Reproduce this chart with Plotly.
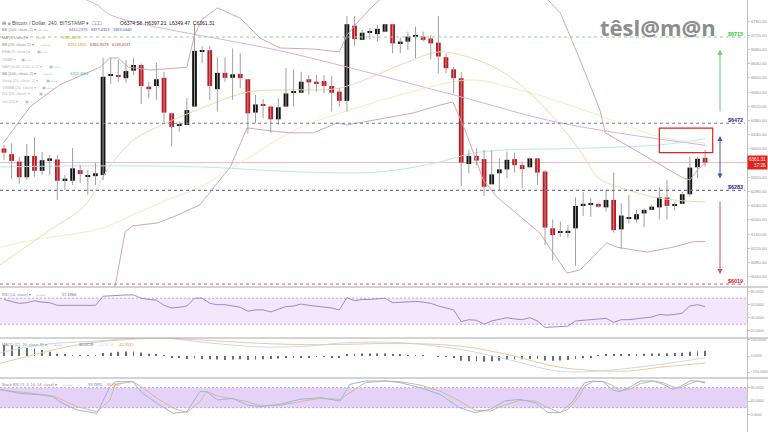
import plotly.graph_objects as go

W, H = 768, 432
PLOT_W = 747
FONT = "Liberation Sans, Arial, sans-serif"

# ---------------- candle data (BTC/USD, 240 min, Bitstamp) ----------------
opens = [6401, 6385, 6364, 6320, 6380, 6338, 6366, 6370, 6312, 6310,
         6340, 6321, 6323, 6326, 6606, 6608, 6599, 6620, 6636, 6575,
         6577, 6600, 6500, 6465, 6467, 6519, 6674, 6678, 6568, 6614,
         6600, 6611, 6596, 6502, 6525, 6519, 6483, 6519, 6560, 6558,
         6596, 6589, 6591, 6577, 6561, 6535, 6747, 6707, 6729, 6723,
         6730, 6751, 6697, 6702, 6717, 6716, 6711, 6699, 6658, 6624,
         6599, 6357, 6380, 6371, 6300, 6331, 6342, 6371, 6354, 6348,
         6373, 6336, 6176, 6164, 6164, 6176, 6239, 6243, 6245, 6235,
         6256, 6173, 6203, 6201, 6218, 6228, 6235, 6263, 6241, 6245,
         6272, 6348, 6374.58]
highs = [6412, 6416, 6377, 6414, 6433, 6391, 6383, 6383, 6326, 6402,
         6354, 6340, 6360, 6656, 6656, 6650, 6650, 6656, 6640, 6589,
         6642, 6617, 6501, 6476, 6543, 6752, 6690, 6690, 6658, 6658,
         6683, 6669, 6596, 6552, 6540, 6521, 6542, 6627, 6624, 6617,
         6608, 6608, 6608, 6605, 6571, 6774, 6774, 6735, 6740, 6749,
         6752, 6752, 6714, 6730, 6744, 6730, 6721, 6774, 6669, 6631,
         6617, 6397, 6401, 6397, 6395, 6373, 6392, 6389, 6364, 6376,
         6373, 6340, 6201, 6195, 6185, 6263, 6278, 6261, 6247, 6284,
         6333, 6247, 6270, 6228, 6232, 6242, 6292, 6312, 6251, 6279,
         6378, 6378, 6397.21]
lows = [6368, 6315, 6301, 6312, 6321, 6326, 6326, 6256, 6284, 6298,
        6304, 6270, 6298, 6312, 6583, 6589, 6586, 6608, 6526, 6542,
        6538, 6474, 6408, 6448, 6467, 6519, 6641, 6538, 6505, 6589,
        6538, 6571, 6444, 6472, 6486, 6444, 6467, 6519, 6519, 6558,
        6552, 6561, 6556, 6505, 6519, 6505, 6690, 6707, 6707, 6702,
        6730, 6669, 6669, 6678, 6655, 6702, 6652, 6613, 6613, 6556,
        6295, 6331, 6354, 6267, 6300, 6282, 6317, 6333, 6289, 6348,
        6298, 6129, 6085, 6152, 6148, 6070, 6211, 6208, 6235, 6223,
        6164, 6117, 6190, 6192, 6179, 6228, 6201, 6201, 6226, 6245,
        6265, 6317, 6349.47]
closes = [6389, 6366, 6320, 6380, 6338, 6368, 6373, 6310, 6316, 6345,
          6329, 6322, 6331, 6603, 6608, 6603, 6619, 6636, 6577, 6568,
          6596, 6502, 6462, 6466, 6509, 6676, 6678, 6577, 6614, 6600,
          6610, 6599, 6500, 6525, 6521, 6483, 6517, 6556, 6561, 6589,
          6587, 6585, 6577, 6558, 6535, 6751, 6709, 6727, 6731, 6738,
          6751, 6697, 6702, 6716, 6718, 6707, 6697, 6660, 6627, 6599,
          6361, 6380, 6367, 6293, 6328, 6342, 6369, 6354, 6343, 6373,
          6333, 6178, 6157, 6167, 6169, 6239, 6245, 6244, 6237, 6256,
          6171, 6212, 6206, 6216, 6228, 6237, 6263, 6239, 6244, 6272,
          6347, 6372, 6361.31]
last_price = 6361.31

# ---------------- overlay indicators ----------------
bb20_mid_x = [-0.5, 6, 10.4, 14, 17, 21, 26, 32, 37.5, 44, 52, 57, 60, 65, 70, 75.5, 78, 81, 86, 92]
bb20_mid = [6073, 6171, 6236, 6354, 6425, 6470, 6515, 6560, 6566, 6571, 6636, 6673, 6664, 6622, 6537,
            6397, 6318, 6290, 6261, 6250]
bb20_up_x = [-0.1, 3.4, 7.3, 12.6, 13.9, 15, 16.3, 19.2, 22.4, 24, 25, 26, 28, 31, 33.6, 36.2, 40.6, 44,
             45, 46.3, 48.3, 50.7, 58.5, 67.7, 71.4, 73, 75.6, 78.2, 78.9, 89.1, 90, 91, 92]
bb20_up = [6416, 6518, 6580, 6630, 6656, 6656, 6630, 6622, 6627, 6630, 6720, 6765, 6797, 6768, 6712, 6684,
           6681, 6673, 6720, 6754, 6800, 6847, 6930, 6900, 6819, 6783, 6650, 6509, 6445, 6318, 6312, 6340, 6361]
bb20_lo_x = [-0.5, 11.3, 14.6, 15.9, 16.9, 20.1, 22.2, 25.7, 29.7, 31.9, 34, 37.5, 40.6, 43.7, 45, 53.7,
             57.2, 58.9, 60.5, 62.9, 64.7, 70.3, 73.9, 75.6, 79.1, 80.4, 84.4, 87.8, 90.4, 92]
bb20_lo = [5850, 5890, 6016, 6166, 6183, 6191, 6208, 6242, 6349, 6459, 6453, 6445, 6445, 6473, 6467, 6501,
           6523, 6532, 6453, 6312, 6264, 6163, 6050, 6059, 6135, 6123, 6109, 6123, 6138, 6139]
ma_x = [-0.5, 3.8, 12.6, 17, 21.4, 25.7, 30.1, 38.8, 45.4, 52, 61.2, 66.8, 73, 80.8, 86.1, 92]
ma_vals = [6123, 6143, 6175, 6215, 6256, 6292, 6349, 6459, 6509, 6552, 6594, 6571, 6532, 6473, 6433, 6416]
bb200_x = [-0.5, 12, 14, 37.5, 59, 73, 92]
bb200_mid = [6900, 6808, 6777, 6670, 6552, 6473, 6410]
bb100_x = [-0.5, 12.6, 25.7, 38.8, 49.3, 57.2, 61.6, 66, 73, 80.8, 86.1, 92]
bb100_mid = [6349, 6352, 6349, 6335, 6335, 6363, 6388, 6397, 6400, 6405, 6411, 6428]

# ---------------- sub-panel indicators ----------------
rsi = [68, 65, 62, 63, 66, 64, 63, 59, 59, 60,
       59, 59, 59, 73, 74, 74, 75, 75, 70, 68,
       67, 59, 55, 56, 58, 70, 70, 62, 60, 60,
       58, 56, 50, 52, 52, 49, 53, 57, 58, 61,
       59, 58, 57, 55, 52, 71, 66, 68, 68, 69,
       70, 63, 64, 65, 65, 64, 62, 58, 55, 52,
       34, 37, 36, 30, 35, 37, 40, 38, 37, 40,
       35, 25, 26, 26, 27, 35, 36, 36, 37, 39,
       33, 37, 37, 38, 40, 41, 45, 44, 45, 47,
       58, 60, 57.1966]
macd_hist = [68, 66, 57, 50, 45, 37, 26, 14, 10, 4,
             2, 1, 2, 18, 20, 26, 28, 27, 22, 14,
             10, 2, -8, -12, -18, -15, -18, -20, -22, -24,
             -22, -20, -24, -22, -20, -18, -15, -12, -10, -8,
             -7, -6, -6, -8, -10, 10, 14, 16, 16, 15,
             15, 10, 8, 6, 5, 3, 0, -3, -6, -10,
             -30, -32, -33, -36, -33, -30, -25, -22, -20, -18,
             -18, -28, -30, -28, -24, -18, -14, -8, 5, 8,
             7, 10, 12, 13, 14, 15, 16, 17, 18, 20,
             26, 30, 32.0729]
sig_x = [-0.5, 3.8, 8.3, 12.6, 20, 25.7, 33.6, 40, 45, 52, 60, 66, 73, 81.7, 86, 92]
macd_signal = [-45, 6, 57, 88, 109, 99, 78, 70, 72, 78, 60, 10, -70, -93, -70, -43.9945]
macd_x = [-0.5, 5, 12, 20, 26, 34, 40, 45, 52, 60, 66, 73, 80, 86, 92]
macd_line = [20, 70, 92, 115, 85, 55, 62, 82, 82, 40, -20, -95, -85, -52, -11.92]
sto_x = [-0.5, 2, 5, 6.4, 7.7, 9.6, 12.2, 13.9, 14.6, 16.9, 18.2, 20.1, 22.2, 24, 25.7, 26.6, 28, 30,
         31.9, 33.6, 36.2, 38.8, 41.5, 44.1, 45.4, 47.4, 50, 52, 54.6, 57.2, 59.8, 61.8, 63.8, 65.7,
         67.7, 69.7, 71.4, 73, 74, 74.7, 75.6, 76.2, 77.3, 78.6, 79.9, 80.8, 82.2, 83.5, 85.2, 86.5,
         87.8, 88.7, 90, 91, 92]
sto_k = [75, 63, 58, 53, 33, 13, 3, 83, 98, 98, 63, 33, 3, 8, 68, 68, 43, 48, 28, 23,
         30, 45, 50, 40, 90, 100, 100, 95, 80, 60, 20, 5, 15, 40, 45, 35, 5, 5, 25, 40,
         75, 95, 100, 98, 73, 68, 83, 100, 100, 90, 75, 83, 100, 100, 93.7895]
sto_d = [73, 68, 60, 55, 43, 23, 8, 43, 90, 98, 80, 48, 18, 6, 38, 68, 55, 46, 38, 26,
         27, 38, 48, 45, 65, 95, 100, 98, 88, 70, 40, 12, 10, 28, 42, 40, 20, 5, 15, 32,
         58, 85, 98, 99, 86, 70, 76, 92, 100, 95, 82, 79, 92, 100, 96.8947]

# levels / annotations
levels = [6715, 6472, 6283, 6019]
level_labels = ["$6715", "$6472", "$6283", "$6019"]
level_colors = ["#2fbf2f", "#23238f", "#23238f", "#d01818"]
level_line_colors = ["#8ad88a", "#7474ad", "#7474ad", "#e38080"]

price_ticks = [6040, 6080, 6120, 6160, 6200, 6240, 6280, 6320, 6400, 6440, 6480,
               6520, 6560, 6600, 6640, 6680, 6720, 6760]
rsi_ticks = [20, 40, 60, 80]
macd_ticks = [-100, 0, 100]
sto_ticks = [0, 40, 80]

# ---------------- figure ----------------
n = len(opens)
idx = list(range(n))

MAIN = (0, 287)
RSI_P = (287, 338)
MACD_P = (338, 378)
STO_P = (378, 432)


def dom(p):
    return [1 - p[1] / H, 1 - p[0] / H]


fig = go.Figure()

line_w = 1
fig.add_trace(go.Scatter(x=bb200_x, y=bb200_mid, mode="lines", line=dict(color="#d9b0e2", width=line_w, shape="spline")))
fig.add_trace(go.Scatter(x=bb100_x, y=bb100_mid, mode="lines", line=dict(color="#b6e6f0", width=line_w, shape="spline")))
fig.add_trace(go.Scatter(x=ma_x, y=ma_vals, mode="lines", line=dict(color="#f0eebb", width=line_w, shape="spline")))
fig.add_trace(go.Scatter(x=bb20_mid_x, y=bb20_mid, mode="lines", line=dict(color="#f3d6ad", width=line_w, shape="spline")))
fig.add_trace(go.Scatter(x=bb20_up_x, y=bb20_up, mode="lines", line=dict(color="#d3a7ae", width=line_w)))
fig.add_trace(go.Scatter(x=bb20_lo_x, y=bb20_lo, mode="lines", line=dict(color="#d3a7ae", width=line_w)))

# wicks
wx, wy = [], []
for i in idx:
    wx += [i, i, None]
    wy += [lows[i], highs[i], None]
fig.add_trace(go.Scatter(x=wx, y=wy, mode="lines", line=dict(color="#a0a0a0", width=1)))

# bodies
base = [min(o, c) for o, c in zip(opens, closes)]
height = [max(abs(c - o), 2.6) for o, c in zip(opens, closes)]
colors = ["#141414" if c >= o else "#c8171e" for o, c in zip(opens, closes)]
fig.add_trace(go.Bar(x=idx, y=height, base=base, width=0.62, marker=dict(color=colors, line=dict(width=0))))

# RSI
fig.add_trace(go.Scatter(x=idx, y=rsi, mode="lines", line=dict(color="#a487c2", width=1), yaxis="y2"))
# MACD
fig.add_trace(go.Bar(x=idx, y=macd_hist, width=0.11, marker=dict(color="#6e6e6e", line=dict(width=0)), yaxis="y3"))
fig.add_trace(go.Scatter(x=macd_x, y=macd_line, mode="lines", line=dict(color="#c2dcf2", width=1, shape="spline"), yaxis="y3"))
fig.add_trace(go.Scatter(x=sig_x, y=macd_signal, mode="lines", line=dict(color="#f0c89c", width=1, shape="spline"), yaxis="y3"))
# Stoch RSI
fig.add_trace(go.Scatter(x=sto_x, y=sto_d, mode="lines", line=dict(color="#d9b896", width=1), yaxis="y4"))
fig.add_trace(go.Scatter(x=sto_x, y=sto_k, mode="lines", line=dict(color="#9ab8d4", width=1), yaxis="y4"))

shapes = []
shapes.append(dict(type="line", xref="x domain", x0=0, x1=1, yref="y", y0=last_price, y1=last_price,
                   line=dict(color="#f4bcbc", width=1), layer="below"))
for lv, lc in zip(levels, level_line_colors):
    shapes.append(dict(type="line", xref="x domain", x0=0, x1=0.997, yref="y", y0=lv, y1=lv,
                       line=dict(color=lc, width=1.2, dash="3px,3px")))
shapes.append(dict(type="rect", xref="x", yref="y", x0=86.0, x1=93.0, y0=6389, y1=6458,
                   line=dict(color="#e2231a", width=1.2), fillcolor="rgba(0,0,0,0)"))
shapes.append(dict(type="rect", xref="x domain", x0=0, x1=1, yref="y2", y0=30, y1=70,
                   fillcolor="#f3e7fc", line=dict(width=0), layer="below"))
for v in (30, 70):
    shapes.append(dict(type="line", xref="x domain", x0=0, x1=1, yref="y2", y0=v, y1=v,
                       line=dict(color="#c3a9da", width=1, dash="2px,2px"), layer="below"))
shapes.append(dict(type="rect", xref="x domain", x0=0, x1=1, yref="y4", y0=20, y1=80,
                   fillcolor="#e4d2f7", line=dict(width=0), layer="below"))
for v in (20, 80):
    shapes.append(dict(type="line", xref="x domain", x0=0, x1=1, yref="y4", y0=v, y1=v,
                       line=dict(color="#bea3da", width=1, dash="2px,2px"), layer="below"))
for py in (287, 338, 378):
    shapes.append(dict(type="line", xref="paper", x0=0, x1=1, yref="paper", y0=1 - py / H, y1=1 - py / H,
                       line=dict(color="#a8a8a8", width=1)))

ann = []


def T(xp, yp, text, color="#7a7a7a", size=3.9, xanchor="left"):
    ann.append(dict(xref="paper", yref="paper", x=xp / W, y=1 - yp / H, text=text, showarrow=False,
                    xanchor=xanchor, yanchor="middle", borderpad=0,
                    font=dict(size=size, color=color, family=FONT)))


BOX = "\u25a1\u25a1\u25a1\u25a1"
ICON = "\u25a3\u25a1\u25a1\u25a1"
T(1, 22.7, "\u229f \u2261 Bitcoin / Dollar, 240, BITSTAMP \u25be  \u25a1\u25a1\u25a1", "#555", 5.2)
T(119, 22.7, "O6374.58  H6397.21  L6349.47  C6361.31", "#222", 5.0)

T(1, 30, "BB (200, close, 2) \u25be", "#8a8a8a")
T(37, 30, BOX, "#aaaaaa")
T(68, 30, "6410.2376", "#a13bb5")
T(90, 30, "6877.4313", "#3a55b8")
T(112, 30, "5943.0440", "#3a55b8")
T(1, 37.3, "MA (9, close) \u25be", "#8a8a8a")
T(35, 37.3, BOX, "#aaaaaa")
T(61, 37.3, "6385.0375", "#c2b000")
T(1, 44.3, "BB (20, close, 2) \u25be", "#8a8a8a")
T(40, 44.3, BOX, "#aaaaaa")
T(67, 44.3, "6250.1855", "#e08a10")
T(89, 44.3, "6360.9579", "#c03030")
T(111, 44.3, "6139.4131", "#c03030")
T(1, 51.7, "EMA (9, close) \u25be", "#b8b8b8")
T(36, 51.7, ICON, "#9ec4e6")
T(1, 59, "VWAP \u25be", "#b8b8b8")
T(20, 59, ICON, "#9ec4e6")
T(1, 66, "SAR (0.02, 0.02, 0.2) \u25be", "#b8b8b8")
T(48, 66, ICON, "#9ec4e6")
T(1, 73, "BB (100, close, 2) \u25be", "#8a8a8a")
T(42, 73, BOX, "#aaaaaa")
T(69, 73, "6324.4664", "#2ab3cf")
T(1, 80.3, "Vwap (20, close, 2) \u25be", "#b8b8b8")
T(45, 80.3, ICON, "#9ec4e6")
T(1, 87.3, "VWMA (20, close) \u25be", "#b8b8b8")
T(41, 87.3, ICON, "#9ec4e6")
T(1, 94, "RS (20, close) \u25be", "#b8b8b8")
T(38, 94, ICON, "#9ec4e6")
T(1, 101, "Vol (20) \u25be", "#b8b8b8")
T(24, 101, ICON, "#9ec4e6")

T(1, 294, "RSI (14, close) \u25be", "#8a8a8a")
T(35, 294, BOX, "#aaaaaa")
T(61, 294, "57.1966", "#7d4fa6")
T(1, 344, "MACD (12, 26, close, 9) \u25be", "#8a8a8a")
T(52, 344, BOX, "#aaaaaa")
T(78, 344, "32.0729", "#555")
T(97, 344, "-11.9216", "#c8dcf0")
T(117, 344, "-43.9945", "#e39a4a")
T(1, 384, "Stoch RSI (3, 3, 14, 14, close) \u25be", "#8a8a8a")
T(62, 384, BOX, "#aaaaaa")
T(87, 384, "93.7895", "#3f8fd0")
T(106, 384, "96.8947", "#e39a4a")

# logo
ann.append(dict(xref="paper", yref="paper", x=658 / W, y=1 - 27 / H, text="<b>têsl@m@n</b>", showarrow=False,
                xanchor="center", yanchor="middle",
                font=dict(size=22, color="#8d8d8d", family="Open Sans, sans-serif")))

# level labels
for lv, lab, col in zip(levels, level_labels, level_colors):
    ann.append(dict(xref="paper", yref="y", x=744 / W, y=lv, text="<b>" + lab + "</b>", showarrow=False,
                    xanchor="right", yanchor="middle", yshift=3, borderpad=0,
                    font=dict(size=5.4, color=col, family=FONT)))

# current price label
ann.append(dict(xref="paper", yref="y", x=1.0, y=last_price, text="6361.31<br>37:26", showarrow=False,
                xanchor="right", yanchor="middle", align="right", bgcolor="#e3231c", borderpad=1,
                font=dict(size=4.6, color="white", family=FONT)))

# arrows
AX = 93.96
ann.append(dict(xref="x", yref="y", axref="x", ayref="y", x=AX, y=6679, ax=AX, ay=6501, showarrow=True,
                arrowhead=2, arrowsize=1, arrowwidth=1, arrowcolor="#66cc66", text=""))
ann.append(dict(xref="x", yref="y", axref="x", ayref="y", x=AX, y=6436, ax=AX, ay=6312, showarrow=True,
                arrowhead=2, startarrowhead=2, arrowside="end+start", arrowsize=1, arrowwidth=1,
                arrowcolor="#4a55b0", text=""))
ann.append(dict(xref="x", yref="y", axref="x", ayref="y", x=AX, y=6047, ax=AX, ay=6256, showarrow=True,
                arrowhead=2, arrowsize=1, arrowwidth=1, arrowcolor="#d05050", text=""))


def yax(p, rng, ticks, fmt, fs):
    return dict(domain=dom(p), range=rng, side="right", anchor="x", tickvals=ticks, tickformat=fmt,
                tickfont=dict(size=fs, color="#8f8f8f", family=FONT), showgrid=False, zeroline=False,
                showline=True, linecolor="#c4c4c4", linewidth=1, ticks="outside", ticklen=2,
                tickcolor="#c4c4c4", ticklabelstandoff=0, automargin=False, fixedrange=True)


fig.update_layout(
    template="none",
    width=W, height=H,
    margin=dict(l=0, r=0, t=0, b=0),
    paper_bgcolor="white", plot_bgcolor="white",
    showlegend=False, hovermode=False, barmode="overlay",
    xaxis=dict(domain=[0, PLOT_W / W], range=[-0.525, 97.5], visible=False, fixedrange=True),
    yaxis=yax(MAIN, [6010.7, 6819.2], price_ticks, ".2f", 4.4),
    yaxis2=yax(RSI_P, [8.8, 87.2], rsi_ticks, ".4f", 3.6),
    yaxis3=yax(MACD_P, [-135.8, 111.1], macd_ticks, ".4f", 3.6),
    yaxis4=yax(STO_P, [-53, 109], sto_ticks, ".4f", 3.6),
    shapes=shapes,
    annotations=ann,
)

fig.write_html("out.html")
